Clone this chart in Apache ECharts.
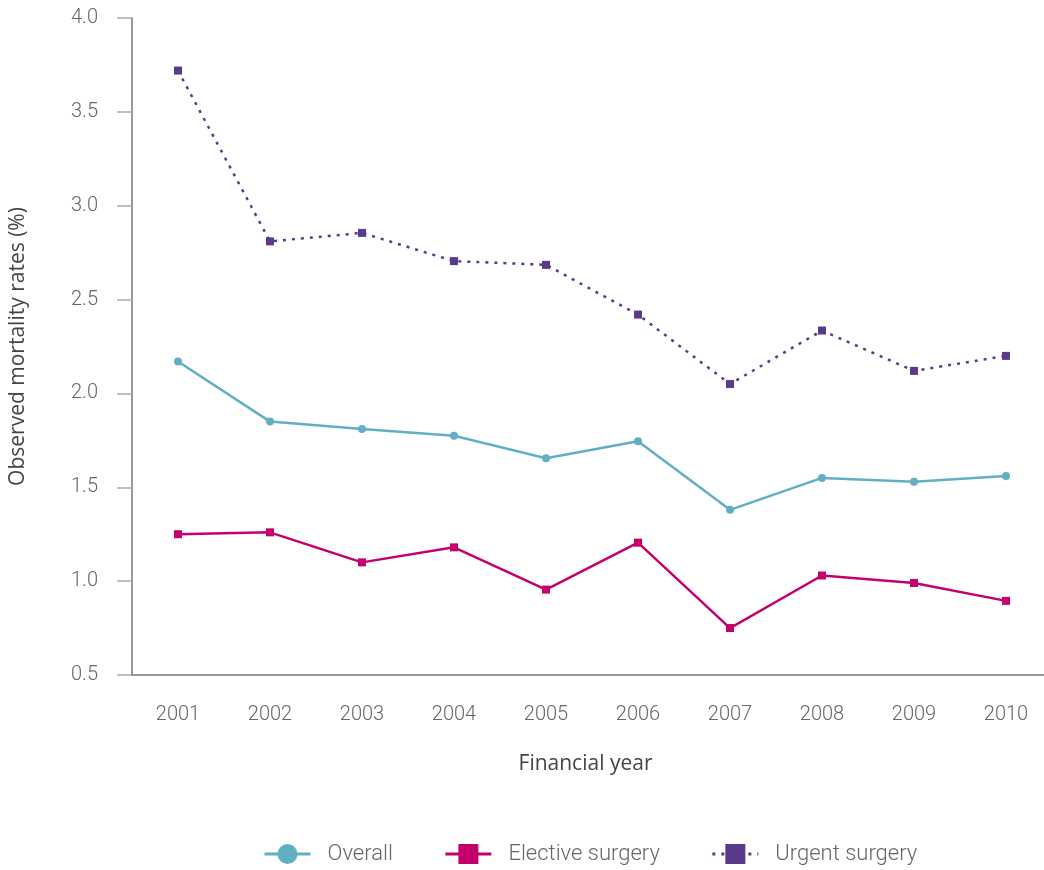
<!DOCTYPE html>
<html>
<head>
<meta charset="utf-8">
<script src="https://cdn.jsdelivr.net/npm/echarts@6/dist/echarts.min.js"></script>
<style>html,body{margin:0;padding:0;background:#fff}#c{width:1044px;height:870px}</style>
</head>
<body>
<div id="c"></div>
<script>
var years = ['2001','2002','2003','2004','2005','2006','2007','2008','2009','2010'];
var overall = [2.17, 1.85, 1.81, 1.775, 1.655, 1.745, 1.38, 1.55, 1.53, 1.56];
var elective = [1.25, 1.26, 1.10, 1.18, 0.955, 1.205, 0.75, 1.03, 0.99, 0.895];
var urgent = [3.72, 2.81, 2.855, 2.705, 2.685, 2.42, 2.05, 2.335, 2.12, 2.20];

var font = 'Roboto';
var titleFont = 'Open Sans';
var chart = echarts.init(document.getElementById('c'));
chart.setOption({
  animation: false,
  grid: {left: 132, right: -8, top: 18, bottom: 195, containLabel: false, outerBoundsMode: 'none'},
  legend: {
    bottom: 0,
    left: 258,
    itemWidth: 46,
    itemHeight: 25,
    itemGap: 51,
    lineStyle: {width: 3},
    textStyle: {fontFamily: font, fontSize: 22, color: '#666', fontWeight: 300, padding: [0,0,0,12]},
    data: ['Overall', 'Elective surgery', 'Urgent surgery']
  },
  xAxis: {
    type: 'category',
    data: years,
    boundaryGap: true,
    axisLine: {lineStyle: {color: '#777', width: 1.5}},
    axisTick: {show: false},
    axisLabel: {fontFamily: font, fontSize: 20, color: '#666', fontWeight: 300, margin: 30},
    name: 'Financial year',
    nameLocation: 'middle',
    nameGap: 79,
    nameTextStyle: {fontFamily: titleFont, fontSize: 21, color: '#444', padding: [0, 13, 0, 0]}
  },
  yAxis: {
    type: 'value',
    min: 0.5, max: 4.0, interval: 0.5,
    axisLine: {show: true, lineStyle: {color: '#777', width: 1.5}},
    axisTick: {show: true, length: 15, lineStyle: {color: '#aaa', width: 1.5}},
    splitLine: {show: false},
    axisLabel: {fontFamily: font, fontSize: 20, color: '#666', fontWeight: 300, margin: 34,
      formatter: function(v){return v.toFixed(1);}},
    name: 'Observed mortality rates (%)',
    nameLocation: 'middle',
    nameGap: 103,
    nameTextStyle: {fontFamily: titleFont, fontSize: 21, color: '#444'}
  },
  series: [
    {name: 'Overall', type: 'line', data: overall, symbol: 'circle', symbolSize: 8,
      itemStyle: {color: '#62afc4'}, lineStyle: {color: '#62afc4', width: 2.5}},
    {name: 'Elective surgery', type: 'line', data: elective, symbol: 'rect', symbolSize: 8,
      itemStyle: {color: '#c4006c'}, lineStyle: {color: '#c4006c', width: 2.5}},
    {name: 'Urgent surgery', type: 'line', data: urgent, symbol: 'rect', symbolSize: 8,
      itemStyle: {color: '#5a3a8a'}, lineStyle: {color: '#5a3a8a', width: 2.5, type: [3, 6]}}
  ]
});
</script>
</body>
</html>
